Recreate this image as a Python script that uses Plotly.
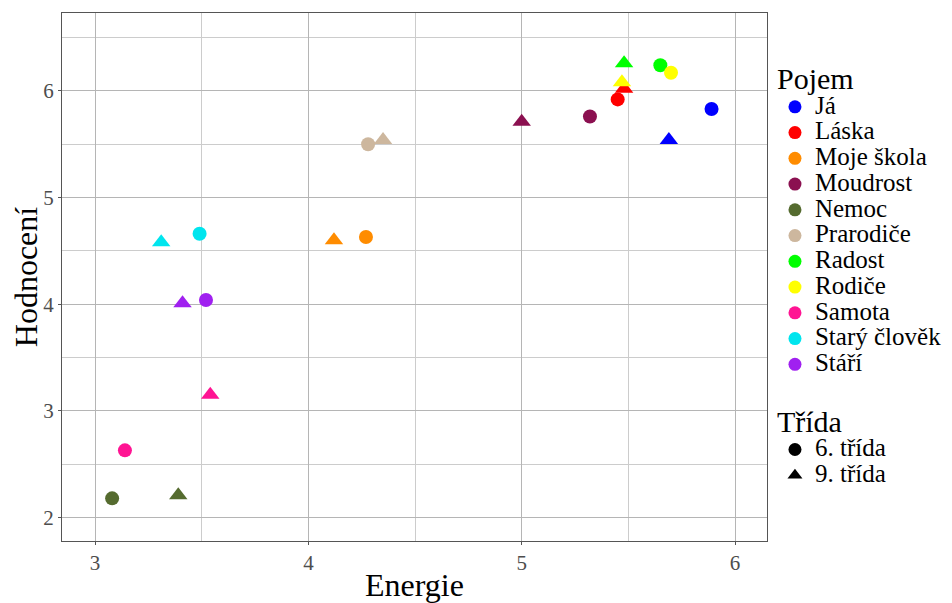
import plotly.graph_objects as go

concepts = ["Já", "Láska", "Moje škola", "Moudrost", "Nemoc", "Prarodiče",
            "Radost", "Rodiče", "Samota", "Starý člověk", "Stáří"]
colors = ["#0000FF", "#FF0000", "#FF8C00", "#8B1050", "#556B2F", "#CDB79E",
          "#00FF00", "#FFFF00", "#FF1493", "#00E5EE", "#A020F0"]

# 6. třída
energie_6 = [5.89, 5.45, 4.27, 5.32, 3.08, 4.28, 5.65, 5.70, 3.14, 3.49, 3.52]
hodnoceni_6 = [5.83, 5.92, 4.63, 5.76, 2.18, 5.50, 6.24, 6.17, 2.63, 4.66, 4.04]
# 9. třída
energie_9 = [5.69, 5.48, 4.12, 5.00, 3.39, 4.35, 5.48, 5.47, 3.54, 3.31, 3.41]
hodnoceni_9 = [5.54, 6.02, 4.60, 5.71, 2.21, 5.54, 6.26, 6.08, 3.15, 4.58, 4.01]

classes = ["6. třída", "9. třída"]

FONT = "Liberation Serif"
ITEM = '<span style="font-size:25px">{}</span>'

fig = go.Figure()

# data points (draw order: circles then triangles)
for i, c in enumerate(concepts):
    fig.add_trace(go.Scatter(x=[energie_6[i]], y=[hodnoceni_6[i]], mode="markers",
                             marker=dict(symbol="circle", size=14, color=colors[i]),
                             showlegend=False, hoverinfo="skip"))
for i, c in enumerate(concepts):
    fig.add_trace(go.Scatter(x=[energie_9[i]], y=[hodnoceni_9[i]], mode="markers",
                             marker=dict(symbol="triangle-up", size=16, color=colors[i]),
                             showlegend=False, hoverinfo="skip"))

# legend entries: Pojem
for i, c in enumerate(concepts):
    fig.add_trace(go.Scatter(x=[None], y=[None], mode="markers", name=ITEM.format(c),
                             marker=dict(symbol="circle", size=13, color=colors[i]),
                             legend="legend"))
# legend entries: Třída
for cls, sym in zip(classes, ["circle", "triangle-up"]):
    fig.add_trace(go.Scatter(x=[None], y=[None], mode="markers", name=ITEM.format(cls),
                             marker=dict(symbol=sym, size=13, color="black"),
                             legend="legend2"))

axis_common = dict(
    showline=True, linecolor="#555555", linewidth=1, mirror=True,
    showgrid=True, gridcolor="#b5b5b5", gridwidth=1,
    zeroline=False, ticks="outside", ticklen=3, tickcolor="#555555",
    tickfont=dict(family=FONT, size=21, color="#4d4d4d"),
    automargin=False,
)

# the page body has an 8px margin, so the figure is sized to the remaining window
fig.update_layout(
    width=944, height=595,
    margin=dict(l=54, r=185, t=5, b=62, autoexpand=False),
    paper_bgcolor="white", plot_bgcolor="white",
    font=dict(family=FONT, color="black"),
    xaxis=dict(range=[2.845, 6.15], dtick=1, tick0=0, ticklabelstandoff=0,
               minor=dict(dtick=0.5, showgrid=True, gridcolor="#cccccc"),
               title=dict(text="Energie", font=dict(family=FONT, size=32), standoff=0),
               **axis_common),
    yaxis=dict(range=[1.78, 6.73], dtick=1, tick0=0,
               minor=dict(dtick=0.5, showgrid=True, gridcolor="#cccccc"),
               title=dict(text="Hodnocení", font=dict(family=FONT, size=32), standoff=0),
               **axis_common),
    legend=dict(title=dict(text="Pojem", font=dict(family=FONT, size=30)),
                font=dict(family=FONT, size=17.5),
                x=1.0113, xanchor="left", y=0.930, yanchor="top",
                itemwidth=30, tracegroupgap=0, bgcolor="rgba(0,0,0,0)"),
    legend2=dict(title=dict(text="Třída", font=dict(family=FONT, size=30)),
                 font=dict(family=FONT, size=17.5),
                 x=1.0113, xanchor="left", y=0.281, yanchor="top",
                 itemwidth=30, bgcolor="rgba(0,0,0,0)"),
)

fig.write_html("out.html")
